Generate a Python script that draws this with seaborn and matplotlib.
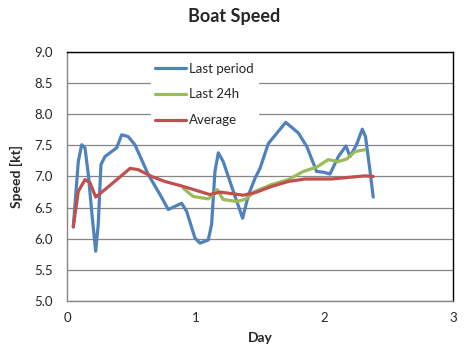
import numpy as np
import pandas as pd
import matplotlib
matplotlib.use("Agg")
import matplotlib.pyplot as plt
import seaborn as sns

sns.set_style("white")
plt.rcParams['font.family'] = ['Lato', 'DejaVu Sans']

# values (day, speed in kt)
last_period_day = [0.049, 0.088, 0.114, 0.14, 0.166, 0.192, 0.223, 0.243, 0.264, 0.295,
                   0.386, 0.425, 0.476, 0.528, 0.632, 0.723, 0.787, 0.839, 0.891, 0.93,
                   0.995, 1.034, 1.098, 1.124, 1.15, 1.176, 1.214, 1.293, 1.365, 1.41,
                   1.461, 1.50, 1.565, 1.70, 1.798, 1.864, 1.94, 1.992, 2.044, 2.109,
                   2.168, 2.20, 2.25, 2.295, 2.32, 2.354, 2.38]
last_period_kt = [6.19, 7.24, 7.51, 7.46, 7.03, 6.44, 5.80, 6.23, 7.19, 7.32,
                  7.46, 7.67, 7.64, 7.51, 7.03, 6.71, 6.47, 6.52, 6.57, 6.44,
                  6.01, 5.93, 5.98, 6.23, 7.08, 7.38, 7.24, 6.76, 6.33, 6.70,
                  6.97, 7.13, 7.53, 7.87, 7.70, 7.48, 7.08, 7.07, 7.04, 7.32,
                  7.49, 7.32, 7.51, 7.76, 7.64, 7.11, 6.67]

last24_day = [0.904, 0.98, 1.098, 1.137, 1.168, 1.214, 1.318, 1.383, 1.461, 1.59,
              1.72, 1.836, 1.94, 2.03, 2.109, 2.173, 2.238, 2.315]
last24_kt = [6.81, 6.68, 6.64, 6.71, 6.79, 6.63, 6.60, 6.63, 6.76, 6.87,
             6.95, 7.08, 7.15, 7.27, 7.24, 7.28, 7.40, 7.43]

average_day = [0.049, 0.088, 0.14, 0.179, 0.223, 0.295, 0.399, 0.49, 0.554, 0.658,
               0.761, 0.904, 1.11, 1.19, 1.37, 1.461, 1.59, 1.72, 1.85, 2.057,
               2.21, 2.315, 2.38]
average_kt = [6.19, 6.76, 6.95, 6.90, 6.67, 6.79, 6.97, 7.13, 7.11, 7.00,
              6.92, 6.84, 6.71, 6.75, 6.70, 6.74, 6.84, 6.92, 6.96, 6.96,
              6.99, 7.01, 7.00]

series = [
    ("Last period", last_period_day, last_period_kt, "#4F81BD"),
    ("Last 24h", last24_day, last24_kt, "#9BBB59"),
    ("Average", average_day, average_kt, "#C0504D"),
]

fig = plt.figure(figsize=(4.73, 3.52), dpi=100)
ax = fig.add_axes([0.1416, 0.1449, 0.8161, 0.7074])

for name, d, v, c in series:
    df = pd.DataFrame({"Day": d, "Speed": v})
    sns.lineplot(data=df, x="Day", y="Speed", ax=ax, color=c, lw=2.3,
                 label=name, sort=False, solid_capstyle="round",
                 solid_joinstyle="round")

ax.set_xlim(0, 3)
ax.set_ylim(5.0, 9.0)
ax.set_xticks([0, 1, 2, 3])
ax.set_yticks(np.arange(5.0, 9.01, 0.5))
ax.set_yticklabels([f"{t:.1f}" for t in np.arange(5.0, 9.01, 0.5)])
ax.yaxis.grid(True, color="#868686", lw=0.9)
ax.set_axisbelow(True)
ax.tick_params(axis="x", direction="in", length=5, color="#868686", labelsize=9.5, pad=8)
ax.tick_params(axis="y", length=0, labelsize=9.5, pad=10)

for s in ["top", "right"]:
    ax.spines[s].set_color("black")
    ax.spines[s].set_linewidth(1.0)
for s in ["left", "bottom"]:
    ax.spines[s].set_color("#868686")
    ax.spines[s].set_linewidth(1.0)

ax.set_xlabel("Day", fontweight="bold", fontsize=10, labelpad=6)
ax.set_ylabel("Speed [kt]", fontweight="bold", fontsize=10, labelpad=8)
fig.text(0.495, 0.952, "Boat Speed", ha="center", va="center",
         fontweight="bold", fontsize=13)

leg = ax.legend(loc="upper left", bbox_to_anchor=(0.2, 1.0), frameon=True,
                fontsize=9.5, handlelength=2.4, handletextpad=0.2,
                labelspacing=1.05, borderpad=0.3)
leg.get_frame().set_edgecolor("white")
leg.get_frame().set_facecolor("white")
leg.get_frame().set_alpha(1)

fig.savefig("out.png", dpi=100)
